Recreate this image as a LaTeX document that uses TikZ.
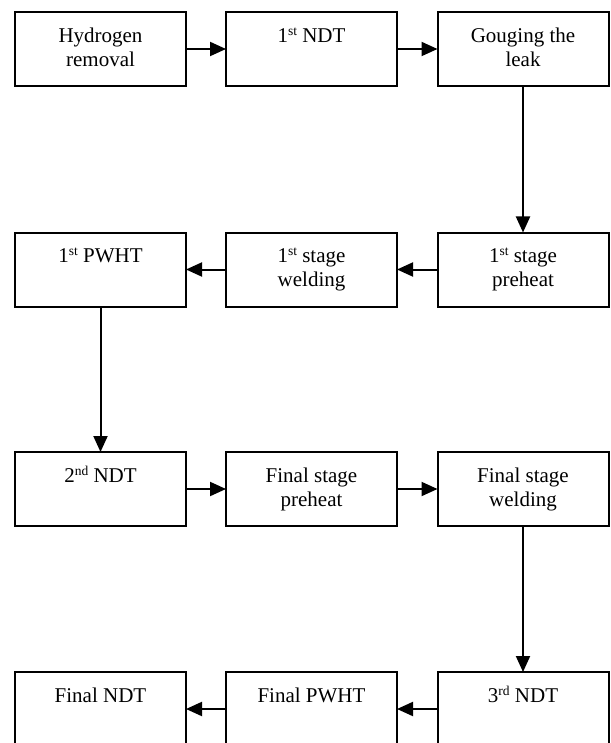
\documentclass[tikz,border=0pt]{standalone}
\usepackage{fontspec}
\setmainfont{Liberation Serif}
\usetikzlibrary{arrows.meta}
\newcommand\sups[1]{\raisebox{7pt}{\fontsize{13.5}{14}\selectfont #1}}
\begin{document}
\begin{tikzpicture}[x=1pt,y=-1pt,
  box/.style={draw, line width=2pt, minimum width=171pt, minimum height=74pt, inner sep=0pt, outer sep=0pt},
  lbl/.style={anchor=north, inner sep=0pt, align=center, font=\fontsize{21}{24}\selectfont},
  flow/.style={line width=2pt, -{Triangle[length=16pt,width=14pt]}}]
\useasboundingbox (0,0) rectangle (610,743);
\clip (0,0) rectangle (610,743);
% row 1
\node[box] (a1) at (100.5,49) {};
\node[box] (b1) at (311.5,49) {};
\node[box] (c1) at (523,49) {};
% row 2
\node[box] (a2) at (100.5,269.5) {};
\node[box] (b2) at (311.5,269.5) {};
\node[box] (c2) at (523,269.5) {};
% row 3
\node[box] (a3) at (100.5,489) {};
\node[box] (b3) at (311.5,489) {};
\node[box] (c3) at (523,489) {};
% row 4
\node[box] (a4) at (100.5,709) {};
\node[box] (b4) at (311.5,709) {};
\node[box] (c4) at (523,709) {};
% labels
\node[lbl] (ta1) at ([yshift=-13.2pt]a1.north) {\strut Hydrogen\\removal};
\node[lbl] (tb1) at ([yshift=-13.2pt]b1.north) {\strut 1\sups{st} NDT};
\node[lbl] (tc1) at ([yshift=-13.2pt]c1.north) {\strut Gouging the\\leak};
\node[lbl] (ta2) at ([yshift=-13.2pt]a2.north) {\strut 1\sups{st} PWHT};
\node[lbl] (tb2) at ([yshift=-13.2pt]b2.north) {\strut 1\sups{st} stage\\welding};
\node[lbl] (tc2) at ([yshift=-13.2pt]c2.north) {\strut 1\sups{st} stage\\preheat};
\node[lbl] (ta3) at ([yshift=-13.2pt]a3.north) {\strut 2\sups{nd} NDT};
\node[lbl] (tb3) at ([yshift=-13.2pt]b3.north) {\strut Final stage\\preheat};
\node[lbl] (tc3) at ([yshift=-13.2pt]c3.north) {\strut Final stage\\welding};
\node[lbl] (ta4) at ([yshift=-13.2pt]a4.north) {\strut Final NDT};
\node[lbl] (tb4) at ([yshift=-13.2pt]b4.north) {\strut Final PWHT};
\node[lbl] (tc4) at ([yshift=-13.2pt]c4.north) {\strut 3\sups{rd} NDT};
% connectors
\draw[flow] (a1.east) -- (b1.west);
\draw[flow] (b1.east) -- (c1.west);
\draw[flow] (c1.south) -- (c2.north);
\draw[flow] (c2.west) -- (b2.east);
\draw[flow] (b2.west) -- (a2.east);
\draw[flow] (a2.south) -- (a3.north);
\draw[flow] (a3.east) -- (b3.west);
\draw[flow] (b3.east) -- (c3.west);
\draw[flow] (c3.south) -- (c4.north);
\draw[flow] (c4.west) -- (b4.east);
\draw[flow] (b4.west) -- (a4.east);
\end{tikzpicture}
\end{document}
